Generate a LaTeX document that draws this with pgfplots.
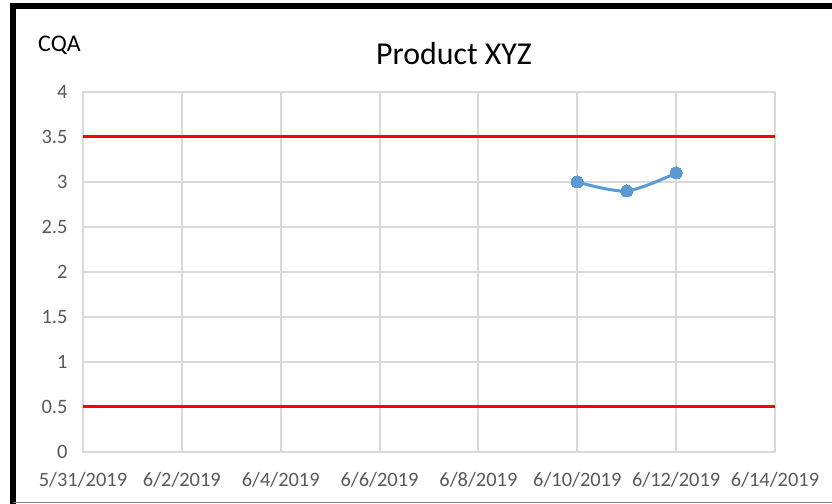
\documentclass[border=0pt]{standalone}
\usepackage{fontspec}
\setmainfont{Carlito}
\usepackage{pgfplots}
\pgfplotsset{compat=1.18}
\definecolor{gridgray}{HTML}{D9D9D9}
\definecolor{ticktext}{HTML}{595959}
\definecolor{seriesblue}{HTML}{5B9BD5}
\definecolor{limred}{HTML}{FF0000}
\begin{document}
\begin{tikzpicture}[x=1bp,y=1bp]
\useasboundingbox (0,0) rectangle (832,504);
\fill[white] (0,0) rectangle (832,504);
\draw[line width=6bp] (13,0) -- (13,498) -- (832,498);
\draw[gray, line width=1bp] (13,1.5) -- (832,1.5);
\node[font=\fontsize{24}{28}\selectfont, anchor=west, inner sep=0pt] at (38,459) {CQA};
\node[font=\fontsize{32}{38}\selectfont, inner sep=0pt] at (454,450) {Product XYZ};
\begin{axis}[
  at={(83bp,52bp)}, anchor=south west,
  scale only axis, width=692bp, height=360bp,
  xmin=0, xmax=14, ymin=0, ymax=4,
  xtick={0,2,4,6,8,10,12,14},
  xticklabels={5/31/2019,6/2/2019,6/4/2019,6/6/2019,6/8/2019,6/10/2019,6/12/2019,6/14/2019},
  ytick={0,0.5,1,1.5,2,2.5,3,3.5,4},
  yticklabels={0,0.5,1,1.5,2,2.5,3,3.5,4},
  axis line style={gridgray, line width=2bp},
  grid=major, major grid style={gridgray, line width=2bp},
  tick style={draw=none},
  ticklabel style={font=\fontsize{20.5}{24}\selectfont, text=ticktext},
  yticklabel style={xshift=-12bp},
  xticklabel style={yshift=-17bp},
  clip=false,
]
\addplot[limred, line width=3bp, no marks] coordinates {(0,3.5) (14,3.5)};
\addplot[limred, line width=3bp, no marks] coordinates {(0,0.5) (14,0.5)};
\addplot[seriesblue, line width=3bp, smooth, mark=*, mark size=6bp,
  mark options={fill=seriesblue, draw=seriesblue, line width=0pt}]
  coordinates {(10,3.0) (11,2.9) (12,3.1)};
\end{axis}
\end{tikzpicture}
\end{document}
